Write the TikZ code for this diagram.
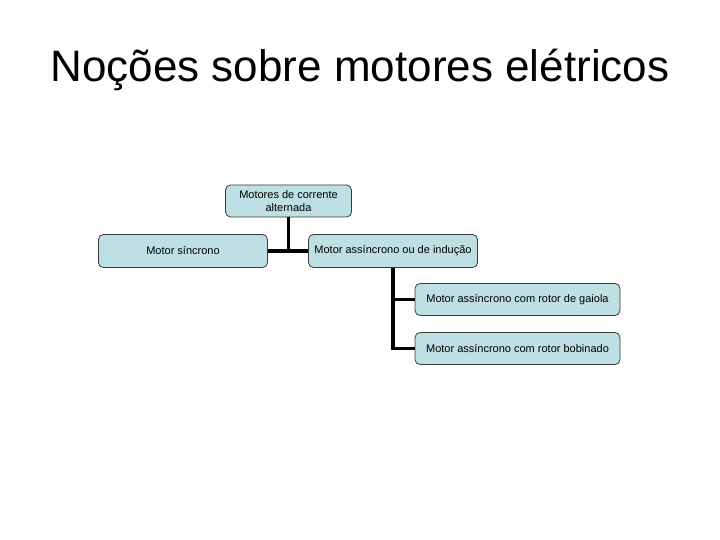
\documentclass[tikz,border=0pt]{standalone}
\usepackage{fontspec}
\setmainfont{Liberation Sans}
\definecolor{boxfill}{HTML}{BEDFE3}
\definecolor{boxline}{HTML}{3A3A3A}
\begin{document}
\begin{tikzpicture}[x=1pt,y=-1pt,
  box/.style={draw=boxline,line width=0.8pt,fill=boxfill,rounded corners=5pt,font=\fontsize{11}{13}\selectfont,align=center,inner sep=0pt},
  conn/.style={line width=3.2pt}]
\useasboundingbox (0,0) rectangle (720,540);
\node[font=\fontsize{44}{50}\selectfont] (title) at (360,70) {Noções sobre motores elétricos};
\node[box,minimum width=126pt,minimum height=32pt] (top) at (288.5,201) {Motores de corrente\\alternada};
\node[box,minimum width=169pt,minimum height=33pt] (sin) at (183,251) {Motor síncrono};
\node[box,minimum width=169pt,minimum height=33pt] (ass) at (393,251) {Motor assíncrono ou de indução};
\node[box,minimum width=205pt,minimum height=32pt] (gai) at (517.5,299.5) {Motor assíncrono com rotor de gaiola};
\node[box,minimum width=205pt,minimum height=32pt] (bob) at (517.5,348.5) {Motor assíncrono com rotor bobinado};
\draw[conn] (top.south) -- (top.south |- sin.east);
\draw[conn] (sin.east) -- (ass.west);
\coordinate (v) at (ass.south);
\draw[conn] (v) -- (v |- bob.west) -- (bob.west);
\draw[conn] (v |- gai.west) -- (gai.west);
\end{tikzpicture}
\end{document}
